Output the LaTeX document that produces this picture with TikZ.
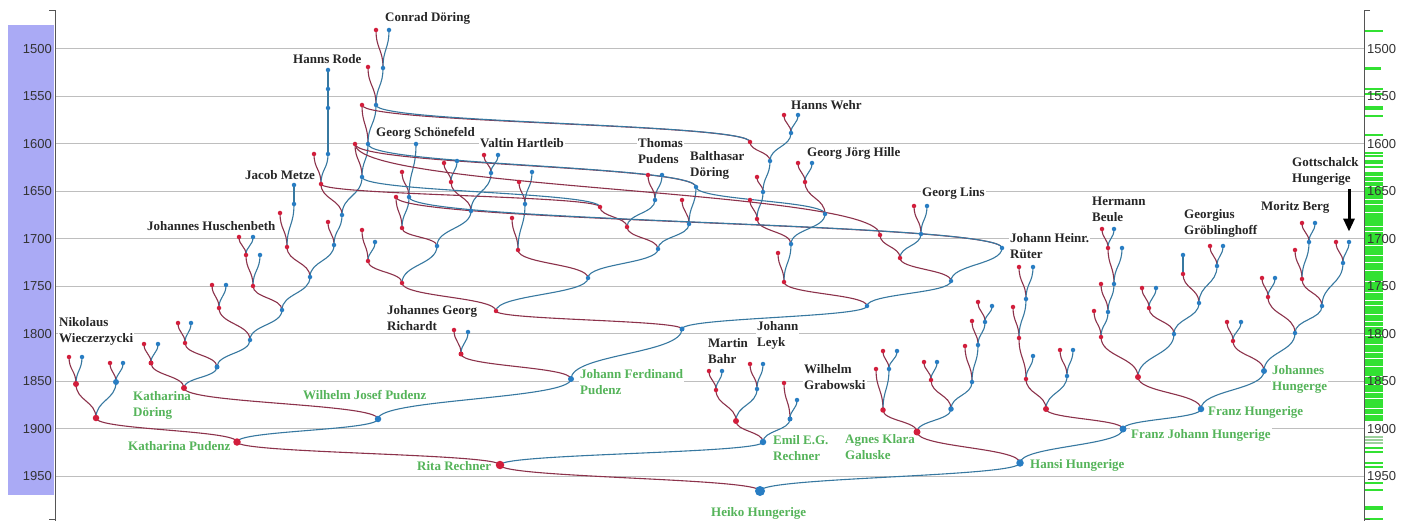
\documentclass[tikz,border=0pt]{standalone}
\usepackage{fontspec}
\setmainfont{Liberation Serif}
\newfontfamily\axisfont{Liberation Sans}
\usetikzlibrary{calc,arrows.meta}
\pgfdeclarelayer{grid}
\pgfdeclarelayer{lab}
\pgfdeclarelayer{links}
\pgfsetlayers{grid,lab,links,main}
\definecolor{mred}{RGB}{140,50,75}
\definecolor{fblue}{RGB}{55,120,160}
\definecolor{dred}{RGB}{210,30,60}
\definecolor{dblue}{RGB}{40,125,195}
\definecolor{gname}{RGB}{85,180,90}
\definecolor{lav}{RGB}{170,170,245}
\definecolor{gridc}{RGB}{190,190,190}
\definecolor{tickg}{RGB}{50,225,50}
\definecolor{axc}{RGB}{85,85,85}
\tikzset{
  rdd/.style={circle,fill=dred,inner sep=0pt,minimum size=4.5pt},
  bdd/.style={circle,fill=dblue,inner sep=0pt,minimum size=4.5pt},
  mln/.style={draw=mred,line width=1.1pt},
  fln/.style={draw=fblue,line width=1.1pt},
  anc/.style={font=\bfseries\fontsize{13}{16}\selectfont,text=black!85,anchor=west,inner sep=1pt,fill=white,align=left},
  desc/.style={font=\bfseries\fontsize{13}{16}\selectfont,text=gname,anchor=west,inner sep=1pt,fill=white,align=left},
  yrl/.style={font=\axisfont\fontsize{13}{15}\selectfont,text=black!80,inner sep=0pt},
}
\newcommand\rdot[4][4.5pt]{\node[rdd,minimum size=#1] (#2) at (#3,#4) {};}
\newcommand\bdot[4][4.5pt]{\node[bdd,minimum size=#1] (#2) at (#3,#4) {};}
\newcommand\lnk[3]{\begin{pgfonlayer}{links}\path ($(#1.center)!0.5!(#2.center)$) coordinate (lmid);
  \draw[#3] (#1.center) .. controls (#1.center |- lmid) and (#2.center |- lmid) .. (#2.center);\end{pgfonlayer}}
\newcommand\mlink[2]{\lnk{#1}{#2}{mln}}
\newcommand\flink[2]{\lnk{#1}{#2}{fln}}
\begin{document}
\begin{tikzpicture}[x=1pt,y=-1pt]
\useasboundingbox (0,0) rectangle (1411,521);
\begin{pgfonlayer}{grid}
\fill[white] (0,0) rectangle (1411,521);
\fill[lav] (8,25) rectangle (54,495);
% right ticks
\fill[tickg] (1365,172) rectangle (1383,421);
\foreach \yy in {176,181,186,199,204,212,226,231,245,255,262,270,281,292,300,305,314,321,326,335,344,352,358,366,376,384,392,398,408,414}
  \draw[white,line width=0.8pt] (1365,\yy) -- (1383,\yy);
\foreach \yy in {31,89,94,107,109,116,135,153,156,161,163,167,448,452,463,467,483,490,507,509,519}
  \draw[tickg,line width=1.2pt] (1365,\yy) -- (1383,\yy);
\draw[tickg,line width=3pt] (1365,69) -- (1381,69);
\foreach \yy in {437,440,443}
  \draw[tickg!50!gray!60,line width=1.2pt] (1365,\yy) -- (1383,\yy);
\foreach \yr in {1500,1550,...,1950}{
  \pgfmathsetmacro\yy{48.7+(\yr-1500)*0.95}
  \draw[gridc,line width=1.1pt] (55,\yy) -- (1364,\yy);
  \node[yrl,anchor=east] (yl\yr) at (52,\yy) {\yr};
  \node[yrl,anchor=west] (yr\yr) at (1367,\yy) {\yr};
}
\draw[axc,line width=1pt] (49,11) -- (55,11) -- (55,521);
\draw[axc,line width=1pt] (49,519) -- (55,519);
\draw[axc,line width=1pt] (1370,11) -- (1364,11) -- (1364,521);
\draw[axc,line width=1pt] (1364,519) -- (1370,519);
\end{pgfonlayer}
% labels
\begin{pgfonlayer}{lab}
\node[anc] (lConrad) at (384,18) {Conrad Döring};
\node[anc] (lRode) at (292,59) {Hanns Rode};
\node[anc] (lWehr) at (790,105) {Hanns Wehr};
\node[anc] (lSchoen) at (375,133) {Georg Schönefeld};
\node[anc] (lValtin) at (479,143) {Valtin Hartleib};
\node[anc] (lThomas) at (637,151) {Thomas\\Pudens};
\node[anc] (lBalth) at (689,165) {Balthasar\\Döring};
\node[anc] (lHille) at (806,153) {Georg Jörg Hille};
\node[anc] (lMetze) at (244,175) {Jacob Metze};
\node[anc] (lHusch) at (146,226) {Johannes Huschenbeth};
\node[anc] (lLins) at (921,193) {Georg Lins};
\node[anc] (lRuter) at (1009,246) {Johann Heinr.\\Rüter};
\node[anc] (lBeule) at (1091,209) {Hermann\\Beule};
\node[anc] (lGroeb) at (1183,223) {Georgius\\Gröblinghoff};
\node[anc] (lBerg) at (1260,207) {Moritz Berg};
\node[anc] (lGott) at (1291,171) {Gottschalck\\Hungerige};
\node[anc] (lNiko) at (58,331) {Nikolaus\\Wieczerzycki};
\node[anc] (lRich) at (386,318) {Johannes Georg\\Richardt};
\node[anc] (lBahr) at (707,351) {Martin\\Bahr};
\node[anc] (lLeyk) at (756,335) {Johann\\Leyk};
\node[anc] (lGrab) at (803,377) {Wilhelm\\Grabowski};
\node[desc] (lKD) at (132,405) {Katharina\\Döring};
\node[desc] (lKP) at (127,446) {Katharina Pudenz};
\node[desc] (lWJP) at (302,395) {Wilhelm Josef Pudenz};
\node[desc] (lJFP) at (579,382) {Johann Ferdinand\\Pudenz};
\node[desc] (lRita) at (416,466) {Rita Rechner};
\node[desc] (lEmil) at (772,448) {Emil E.G.\\Rechner};
\node[desc] (lAgnes) at (844,447) {Agnes Klara\\Galuske};
\node[desc] (lHeiko) at (710,513) {Heiko Hungerige};
\node[desc] (lHansi) at (1029,465) {Hansi Hungerige};
\node[desc] (lFJH) at (1130,435) {Franz Johann Hungerige};
\node[desc] (lFH) at (1207,412) {Franz Hungerige};
\node[desc] (lJH) at (1271,379) {Johannes\\Hungerge};
\end{pgfonlayer}
% ===== persons =====
\bdot[10pt]{heiko}{760}{491}
\rdot[8.5pt]{rita}{500}{465}
\bdot[7.5pt]{hansi}{1020}{463}
\rdot[7.5pt]{kpud}{237}{442}
\bdot[6.5pt]{emil}{763}{442}
\rdot[7pt]{agnes}{917}{432}
\bdot[7pt]{fjh}{1123}{429}
\bdot[6.5pt]{wjp}{378}{419}
\rdot[6.5pt]{n96}{96}{418}
\rdot[6pt]{kdor}{184}{388}
\bdot[6pt]{jfp}{571}{379}
\bdot[6.5pt]{fh}{1201}{409}
\bdot[6pt]{jh}{1264}{371}
% left
\rdot[6pt]{w1}{76}{384} \rdot{w1m}{69}{357} \bdot{w1f}{82}{357}
\bdot[6pt]{w2}{116}{382} \rdot{w2m}{110}{363} \bdot{w2f}{123}{363}
\rdot[5pt]{a1}{151}{363} \rdot{a1m}{144}{344} \bdot{a1f}{158}{344}
\bdot[5pt]{a2}{217}{367}
\rdot{a3}{185}{343} \rdot{a3m}{178}{323} \bdot{a3f}{191}{323}
\bdot{a4}{250}{340}
\rdot{a5}{219}{308} \rdot{a5m}{212}{285} \bdot{a5f}{226}{285}
\bdot{a6}{282}{310}
\rdot{a7}{253}{286} \bdot{a7f}{260}{255}
\rdot{a9}{246}{255} \rdot{a9m}{239}{237} \bdot{a9f}{253}{237}
\bdot{a8}{310}{277}
\rdot{a10}{287}{247} \rdot{a10m}{280}{213}
\bdot{a12}{294}{204} \bdot{a12f}{294}{185}
\bdot{a11}{334}{245} \rdot{a11m}{328}{222}
\bdot{a13}{342}{215}
\rdot{a14}{321}{184} \rdot{a14m}{314}{154}
\bdot{a16}{328}{154} \bdot{a16f}{328}{108} \bdot{a16g}{328}{89} \bdot{a16h}{328}{70}
\bdot{a15}{362}{177}
\rdot{a17}{355}{144} \bdot{a18}{368}{144}
\rdot{a19}{362}{105} \bdot{a20}{376}{105}
\rdot{a20m}{368}{67} \bdot{a21}{383}{68}
\rdot{a21m}{376}{30} \bdot{a21f}{389}{30}
% middle
\rdot[5pt]{r1}{461}{354} \rdot{r1m}{454}{330} \bdot{r1f}{468}{332}
\bdot[5pt]{c1}{682}{329}
\rdot{c2}{496}{311}
\bdot{c3}{867}{306}
\rdot{c4}{402}{283}
\bdot{c5}{588}{278}
\rdot{c6}{368}{261} \rdot{c6m}{362}{230} \bdot{c6f}{375}{242}
\bdot{c7}{437}{246}
\rdot{c8}{402}{228}
\rdot{c10}{396}{197} \bdot{c11}{409}{197}
\rdot{c11m}{402}{172} \bdot{c11f}{416}{144}
\bdot{c9}{471}{211}
\rdot{c12}{451}{182} \rdot{c12m}{444}{163} \bdot{c12f}{457}{161}
\bdot{c13}{491}{173} \rdot{c13m}{484}{155} \bdot{c13f}{498}{155}
\rdot{c14}{518}{250}
\rdot{c16}{512}{218}
\bdot{c17}{525}{204} \rdot{c17m}{519}{182} \bdot{c17f}{532}{172}
\bdot{c15}{658}{249}
\rdot{c18}{627}{227}
\rdot{c20}{600}{207}
\bdot{c21}{655}{200} \rdot{c21m}{648}{175} \bdot{c21f}{662}{175}
\bdot{c19}{689}{224} \rdot{c19m}{682}{200}
\bdot{c22}{696}{187}
\rdot{d1}{784}{282} \rdot{d1m}{778}{253}
\bdot{d2}{951}{281}
\bdot{d3}{791}{244}
\rdot{d4}{757}{219} \rdot{d4m}{750}{200}
\bdot{d6}{763}{192} \rdot{d6m}{757}{177}
\bdot{d7}{770}{161}
\rdot{d8}{750}{142}
\bdot{d9}{791}{133} \rdot{d9m}{784}{115} \bdot{d9f}{798}{115}
\bdot{d5}{825}{214}
\rdot{d10}{805}{182} \rdot{d10m}{798}{163} \bdot{d10f}{812}{163}
\rdot{d11}{900}{258}
\rdot{d12}{880}{235}
\bdot{d13}{921}{234} \rdot{d13m}{914}{206} \bdot{d13f}{927}{206}
\bdot{rut}{1002}{248}
% Emil / Hansi side
\rdot[6pt]{e1}{736}{421} \bdot[5pt]{e2}{790}{419}
\rdot{e3}{716}{390} \rdot{e3m}{709}{371} \bdot{e3f}{722}{371}
\bdot{e4}{757}{389} \rdot{e4m}{750}{364} \bdot{e4f}{763}{364}
\rdot{e2m}{784}{383} \bdot{e2f}{797}{400}
\rdot[5.5pt]{g1}{883}{410} \bdot[5.5pt]{g2}{951}{409}
\rdot{g1m}{876}{369} \bdot{g3}{889}{369} \rdot{g3m}{883}{351} \bdot{g3f}{897}{351}
\rdot{g4}{931}{380} \rdot{g4m}{924}{362} \bdot{g4f}{937}{362}
\bdot{g5}{972}{382} \rdot{g5m}{965}{346} \bdot{g6}{978}{345}
\rdot{g6m}{972}{321} \bdot{g7}{985}{322} \rdot{g7m}{978}{302} \bdot{g7f}{992}{306}
\rdot[6pt]{h1}{1046}{409}
\rdot{h2}{1026}{379} \bdot{h3}{1067}{376} \rdot{h3m}{1060}{350} \bdot{h3f}{1073}{350}
\rdot{h4}{1019}{338} \bdot{h4f}{1033}{356}
\rdot{h5}{1013}{307} \bdot{h6}{1026}{299} \rdot{h6m}{1019}{267} \bdot{h6f}{1033}{267}
\rdot[6pt]{i1}{1138}{377}
\rdot{i2}{1101}{337} \bdot{i3}{1174}{334}
\rdot{i2m}{1094}{311} \bdot{i4}{1108}{312}
\rdot{i4m}{1101}{284} \bdot{i5}{1114}{284}
\rdot{i6}{1108}{248} \bdot{i5f}{1122}{248}
\rdot{i6m}{1102}{229} \bdot{i6f}{1114}{229}
\rdot{i7}{1149}{308} \rdot{i7m}{1142}{288} \bdot{i7f}{1156}{288}
\bdot{i8}{1199}{303}
\rdot{i9}{1183}{274} \bdot{i9f}{1183}{255}
\bdot{i10}{1217}{266} \rdot{i10m}{1210}{246} \bdot{i10f}{1223}{246}
\rdot{j1}{1233}{341} \rdot{j1m}{1227}{322} \bdot{j1f}{1241}{322}
\bdot{j2}{1295}{333}
\rdot{j3}{1268}{297} \rdot{j3m}{1262}{278} \bdot{j3f}{1275}{278}
\bdot{j4}{1322}{306}
\rdot{j5}{1302}{279} \rdot{j5m}{1295}{250}
\bdot{j7}{1309}{242} \rdot{j7m}{1302}{223} \bdot{j7f}{1315}{223}
\bdot{j6}{1343}{263} \rdot{j6m}{1336}{242} \bdot{j6f}{1349}{242}
% ===== links =====
\mlink{heiko}{rita} \flink{heiko}{hansi}
\mlink{rita}{kpud} \flink{rita}{emil}
\mlink{kpud}{n96} \flink{kpud}{wjp}
\mlink{n96}{w1} \flink{n96}{w2}
\mlink{w1}{w1m} \flink{w1}{w1f}
\mlink{w2}{w2m} \flink{w2}{w2f}
\mlink{wjp}{kdor} \flink{wjp}{jfp}
\mlink{kdor}{a1} \flink{kdor}{a2}
\mlink{a1}{a1m} \flink{a1}{a1f}
\mlink{a2}{a3} \flink{a2}{a4}
\mlink{a3}{a3m} \flink{a3}{a3f}
\mlink{a4}{a5} \flink{a4}{a6}
\mlink{a5}{a5m} \flink{a5}{a5f}
\mlink{a6}{a7} \flink{a6}{a8}
\mlink{a7}{a9} \flink{a7}{a7f}
\mlink{a9}{a9m} \flink{a9}{a9f}
\mlink{a8}{a10} \flink{a8}{a11}
\mlink{a10}{a10m} \flink{a10}{a12}
\flink{a12}{a12f}
\mlink{a11}{a11m} \flink{a11}{a13}
\mlink{a13}{a14} \flink{a13}{a15}
\mlink{a14}{a14m} \flink{a14}{a16}
\flink{a16}{a16f} \flink{a16f}{a16g} \flink{a16g}{a16h}
\mlink{a15}{a17} \flink{a15}{a18}
\mlink{a18}{a19} \flink{a18}{a20}
\mlink{a20}{a20m} \flink{a20}{a21}
\mlink{a21}{a21m} \flink{a21}{a21f}
\mlink{jfp}{r1} \flink{jfp}{c1}
\mlink{r1}{r1m} \flink{r1}{r1f}
\mlink{c1}{c2} \flink{c1}{c3}
\mlink{c2}{c4} \flink{c2}{c5}
\mlink{c4}{c6} \flink{c4}{c7}
\mlink{c6}{c6m} \flink{c6}{c6f}
\mlink{c7}{c8} \flink{c7}{c9}
\mlink{c8}{c10} \flink{c8}{c11}
\mlink{c11}{c11m} \flink{c11}{c11f}
\mlink{c9}{c12} \flink{c9}{c13}
\mlink{c12}{c12m} \flink{c12}{c12f}
\mlink{c13}{c13m} \flink{c13}{c13f}
\mlink{c5}{c14} \flink{c5}{c15}
\mlink{c14}{c16} \flink{c14}{c17}
\mlink{c17}{c17m} \flink{c17}{c17f}
\mlink{c15}{c18} \flink{c15}{c19}
\mlink{c18}{c20} \flink{c18}{c21}
\mlink{c21}{c21m} \flink{c21}{c21f}
\mlink{c19}{c19m} \flink{c19}{c22}
\mlink{c22}{a17} \flink{c22}{a18}
\mlink{c20}{a14} \flink{c20}{a15}
\mlink{c3}{d1} \flink{c3}{d2}
\mlink{d1}{d1m} \flink{d1}{d3}
\mlink{d3}{d4} \flink{d3}{d5}
\mlink{d4}{d4m} \flink{d4}{d6}
\mlink{d6}{d6m} \flink{d6}{d7}
\mlink{d7}{d8} \flink{d7}{d9}
\mlink{d9}{d9m} \flink{d9}{d9f}
\mlink{d8}{a19} \flink{d8}{a20}
\mlink{d5}{d10} \flink{d5}{c22}
\mlink{d10}{d10m} \flink{d10}{d10f}
\mlink{d2}{d11} \flink{d2}{rut}
\mlink{d11}{d12} \flink{d11}{d13}
\mlink{d13}{d13m} \flink{d13}{d13f}
\mlink{d12}{a17}
\mlink{rut}{c10} \flink{rut}{c11}
\mlink{emil}{e1} \flink{emil}{e2}
\mlink{e1}{e3} \flink{e1}{e4}
\mlink{e3}{e3m} \flink{e3}{e3f}
\mlink{e4}{e4m} \flink{e4}{e4f}
\mlink{e2}{e2m} \flink{e2}{e2f}
\mlink{hansi}{agnes} \flink{hansi}{fjh}
\mlink{agnes}{g1} \flink{agnes}{g2}
\mlink{g1}{g1m} \flink{g1}{g3}
\mlink{g3}{g3m} \flink{g3}{g3f}
\mlink{g2}{g4} \flink{g2}{g5}
\mlink{g4}{g4m} \flink{g4}{g4f}
\mlink{g5}{g5m} \flink{g5}{g6}
\mlink{g6}{g6m} \flink{g6}{g7}
\mlink{g7}{g7m} \flink{g7}{g7f}
\mlink{fjh}{h1} \flink{fjh}{fh}
\mlink{h1}{h2} \flink{h1}{h3}
\mlink{h3}{h3m} \flink{h3}{h3f}
\mlink{h2}{h4} \flink{h2}{h4f}
\mlink{h4}{h5} \flink{h4}{h6}
\mlink{h6}{h6m} \flink{h6}{h6f}
\mlink{fh}{i1} \flink{fh}{jh}
\mlink{i1}{i2} \flink{i1}{i3}
\mlink{i2}{i2m} \flink{i2}{i4}
\mlink{i4}{i4m} \flink{i4}{i5}
\mlink{i5}{i6} \flink{i5}{i5f}
\mlink{i6}{i6m} \flink{i6}{i6f}
\mlink{i3}{i7} \flink{i3}{i8}
\mlink{i7}{i7m} \flink{i7}{i7f}
\mlink{i8}{i9} \flink{i8}{i10}
\flink{i9}{i9f}
\mlink{i10}{i10m} \flink{i10}{i10f}
\mlink{jh}{j1} \flink{jh}{j2}
\mlink{j1}{j1m} \flink{j1}{j1f}
\mlink{j2}{j3} \flink{j2}{j4}
\mlink{j3}{j3m} \flink{j3}{j3f}
\mlink{j4}{j5} \flink{j4}{j6}
\mlink{j5}{j5m} \flink{j5}{j7}
\mlink{j7}{j7m} \flink{j7}{j7f}
\mlink{j6}{j6m} \flink{j6}{j6f}
% arrow
\coordinate (arrS) at (1349,189);
\draw[line width=3pt,-{Triangle[width=11pt,length=13pt]},shorten >=8pt] (arrS) -- (j6f);
\end{tikzpicture}
\end{document}
